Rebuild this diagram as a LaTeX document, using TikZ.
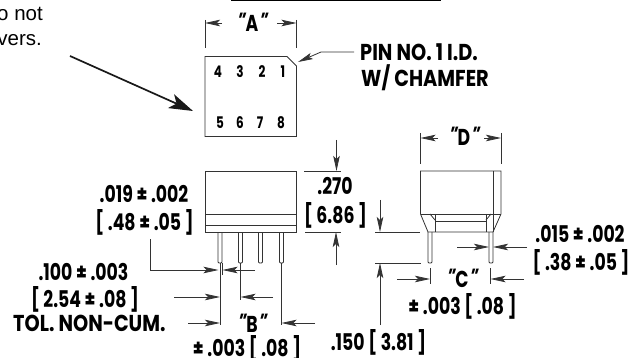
\documentclass[tikz,border=0pt]{standalone}
\usepackage{fontspec}
\setmainfont{Liberation Sans}
\newfontfamily\dimfont[FakeStretch=0.75]{Poppins}
\newfontfamily\dimwide[FakeStretch=0.84]{Poppins}
\newfontfamily\quotefont[FakeSlant=0.3,FakeStretch=0.8]{Poppins}
\newcommand{\dq}[1]{{\quotefont\bfseries"}\kern4pt #1\kern-2pt{\quotefont\bfseries"}}
\usetikzlibrary{arrows.meta}
\tikzset{
 x=1pt,y=-1pt,
 ln/.style={draw=black!80,line width=0.8pt},
 fathead/.style={-{Stealth[length=15pt,width=6.5pt,inset=3pt]}},
 dimarrow/.style={ln,fathead},
 lbl/.style={font=\dimfont\fontsize{23}{23}\selectfont\bfseries,inner sep=0pt,text=black,anchor=base},
 widelbl/.style={font=\dimwide\fontsize{23}{23}\selectfont\bfseries,inner sep=0pt,text=black,anchor=base west},
 num/.style={font=\dimfont\fontsize{16}{16}\selectfont\bfseries,inner sep=0pt,anchor=base},
 note/.style={font=\fontsize{20.5}{20}\selectfont,inner sep=0pt,anchor=base east},
 pinshape/.style={ln,rounded corners=1pt},
}
\begin{document}
\begin{tikzpicture}
\useasboundingbox (0,0) rectangle (637,358);
% note text and big arrow
\node[note] (n1) at (43,21) {o not};
\node[note] (n2) at (42,46) {vers.};
\coordinate (bigA) at (70,56);
\coordinate (bigB) at (193,111);
\draw[line width=1.7pt,black!90,-{Stealth[length=24pt,width=15pt,inset=6pt]}] (bigA) -- (bigB);
\draw[black,line width=1pt] (231,0.5) -- (441,0.5);
% top view
\draw[ln] (205,56.5) -- (287,56.5) -- (296.5,66) -- (296.5,136.5) -- (205,136.5) -- cycle;
\foreach \t/\x/\y/\n in {4/218/78/a,3/240/78/b,2/262/78/c,1/283/78/d,5/220/129/e,6/240/129/f,7/260/129/g,8/281/129/h}
  \node[num] (pin\n) at (\x,\y) {\t};
\draw[ln] (205,20) -- (205,48);
\draw[ln] (296.5,20) -- (296.5,48);
\node[lbl] (A) at (249,32) {\dq{A}};
\draw[dimarrow] (222,23) -- (205,23);
\draw[dimarrow] (277,23) -- (296.5,23);
% pin 1 leader
\node[widelbl] (pinid) at (360,61) {PIN NO. 1 I.D.};
\node[widelbl] (pinid2) at (361,87) {W/ CHAMFER};
\draw[dimarrow] (354,52) -- (321,52) -- (298,62);
% front view
\draw[ln] (205,171) rectangle (296.5,232);
\draw[ln] (205,214) -- (296.5,214);
\draw[ln] (205,225) -- (296.5,225);
\foreach \x in {220,240.5,260.5,281.5}
  \draw[pinshape] (\x-2,232) -- (\x-2,263) -- (\x+2,263) -- (\x+2,232);
% .270
\draw[ln] (304,171) -- (341,171);
\draw[ln] (305,232) -- (341,232);
\draw[dimarrow] (336.5,140) -- (336.5,171);
\draw[dimarrow] (336,265) -- (336,232);
\node[lbl] (h1) at (335,195) {.270};
\node[lbl] (h2) at (335.5,223) {[ 6.86 ]};
% .019
\node[lbl] (d1) at (144,203) {.019 ± .002};
\node[lbl] (d2) at (144.5,230) {[ .48 ± .05 ]};
\draw[ln,fathead] (150.5,239) -- (150.5,270) -- (218.5,270);
\draw[dimarrow] (255,270) -- (222.5,270);
\draw[ln] (222.5,263) -- (222.5,275);
% extension lines
\draw[ln] (220,263) -- (220,325);
\draw[ln] (240.5,263) -- (240.5,300);
\draw[ln] (281.5,263) -- (281.5,325);
% .100
\draw[dimarrow] (174,297) -- (220,297);
\draw[dimarrow] (273,297) -- (240.5,297);
\node[lbl] (s1) at (83.5,280) {.100 ± .003};
\node[lbl] (s2) at (85,307) {[ 2.54 ± .08 ]};
\node[widelbl] (s3) at (13,331) {TOL. NON-CUM.};
% B
\draw[dimarrow] (188,323) -- (220,323);
\draw[dimarrow] (315,323) -- (281.5,323);
\node[lbl] (B) at (249,332) {\dq{B}};
\node[lbl] (B2) at (247,356.5) {± .003 [ .08 ]};
% side view
\draw[ln] (420.5,171) -- (501,171) -- (501,214) -- (493,232) -- (428,232) -- (420.5,214) -- cycle;
\draw[ln] (420.5,214) -- (501,214);
\draw[ln] (493.3,171) -- (493.3,232);
\draw[ln] (435,214) -- (435,232);
\draw[ln] (486,214) -- (486,232);
\draw[ln] (435,221.5) -- (486,221.5);
\draw[ln] (430,214) -- (435,220);
\draw[ln] (491,214) -- (486,220);
\foreach \x in {430,491}
  \draw[pinshape] (\x-2,232) -- (\x-2,263) -- (\x+2,263) -- (\x+2,232);
% D
\draw[ln] (420.5,133) -- (420.5,164);
\draw[ln] (501,133) -- (501,164);
\draw[dimarrow] (438,138) -- (420.5,138);
\draw[dimarrow] (484,138) -- (501,138);
\node[lbl] (D) at (461,146) {\dq{D}};
% .150
\draw[ln] (375,232) -- (420,232);
\draw[ln] (375,263) -- (421,263);
\draw[dimarrow] (380,200) -- (380,232);
\draw[dimarrow] (380,325) -- (380,263);
\node[lbl] (t1) at (378.5,350) {.150 [ 3.81 ]};
% .015
\draw[dimarrow] (457,247) -- (489,247);
\draw[dimarrow] (527,247) -- (493,247);
\node[lbl] (w1) at (580,243) {.015 ± .002};
\node[lbl] (w2) at (581,270) {[ .38 ± .05 ]};
% C
\draw[ln] (430,268) -- (430,284);
\draw[ln] (490.5,268) -- (490.5,284);
\draw[dimarrow] (397,279) -- (430,279);
\draw[dimarrow] (524,279) -- (490.5,279);
\node[lbl] (C) at (459,287) {\dq{C}};
\node[lbl] (C2) at (462.5,314) {± .003 [ .08 ]};
\end{tikzpicture}
\end{document}
